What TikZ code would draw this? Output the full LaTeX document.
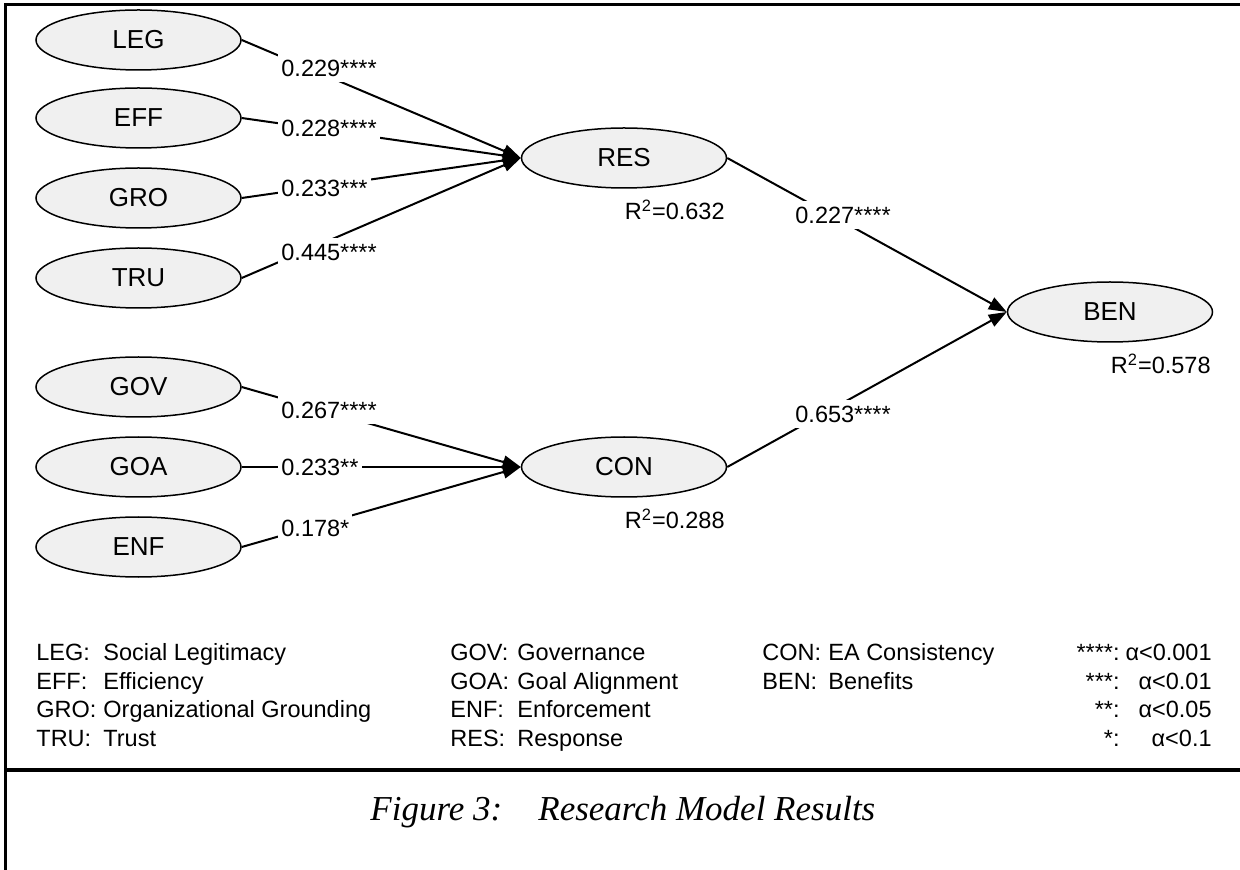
\documentclass[tikz,border=0pt]{standalone}
\usepackage{fontspec}
\setmainfont{Liberation Sans}
\newfontfamily\capfont{Liberation Serif}
\usetikzlibrary{arrows.meta,shapes.geometric}
\definecolor{latfill}{HTML}{F0F0F0}
\begin{document}
\begin{tikzpicture}[x=0.5pt,y=-0.5pt,
  lat/.style={ellipse, draw, line width=0.75pt, fill=latfill, minimum width=102.5pt, minimum height=30pt, inner sep=0pt, font=\fontsize{13}{15}\selectfont},
  conn/.style={line width=1pt, -{Triangle[length=9pt,width=6.5pt]}},
  elab/.style={fill=white, inner xsep=1.5pt, inner ysep=3pt, font=\fontsize{11.75}{14}\selectfont},
  rsq/.style={inner sep=0pt, font=\fontsize{11.75}{14}\selectfont},
  leg/.style={inner sep=0pt, anchor=base west, font=\fontsize{11.75}{14}\selectfont},
  legr/.style={inner sep=0pt, anchor=base east, font=\fontsize{11.75}{14}\selectfont},
  capt/.style={inner sep=0pt, anchor=base west, font=\capfont\itshape\fontsize{17.5}{21}\selectfont},
  frame/.style={line width=1.75pt}]
\useasboundingbox (0,0) rectangle (1240,870);
% frame
\coordinate (ftl) at (5.5,4.6);
\coordinate (ftr) at (1240,4.6);
\coordinate (fbl) at (5.5,870);
\coordinate (fml) at (4.6,770);
\coordinate (fmr) at (1240,770);
\draw[frame] (ftr) -- (ftl) -- (fbl);
\draw[frame] (fml) -- (fmr);
% latent variables
\node[lat] (LEG) at (138.5,40) {LEG};
\node[lat] (EFF) at (138.5,118) {EFF};
\node[lat] (GRO) at (138.5,198) {GRO};
\node[lat] (TRU) at (138.5,278) {TRU};
\node[lat] (GOV) at (138.5,387) {GOV};
\node[lat] (GOA) at (138.5,467) {GOA};
\node[lat] (ENF) at (138.5,547) {ENF};
\node[lat] (RES) at (624,158) {RES};
\node[lat] (CON) at (624,467) {CON};
\node[lat] (BEN) at (1110,312) {BEN};
% connectors
\draw[conn] (LEG.east) -- (RES.west);
\draw[conn] (EFF.east) -- (RES.west);
\draw[conn] (GRO.east) -- (RES.west);
\draw[conn] (TRU.east) -- (RES.west);
\draw[conn] (GOV.east) -- (CON.west);
\draw[conn] (GOA.east) -- (CON.west);
\draw[conn] (ENF.east) -- (CON.west);
\draw[conn] (RES.east) -- (BEN.west);
\draw[conn] (CON.east) -- (BEN.west);
% path coefficients
\node[elab, anchor=west] (c1) at (278,68) {0.229****};
\node[elab, anchor=west] (c2) at (278,128) {0.228****};
\node[elab, anchor=west] (c3) at (278,188) {0.233***};
\node[elab, anchor=west] (c4) at (278,252) {0.445****};
\node[elab, anchor=west] (c5) at (278,410) {0.267****};
\node[elab, anchor=west] (c6) at (278,467) {0.233**};
\node[elab, anchor=west] (c7) at (278,528) {0.178*};
\node[elab, anchor=west] (c8) at (792,215) {0.227****};
\node[elab, anchor=west] (c9) at (792,414) {0.653****};
% R squared
\node[rsq, anchor=east] (r1) at (725,210) {R\textsuperscript{2}=0.632};
\node[rsq, anchor=east] (r2) at (725,519) {R\textsuperscript{2}=0.288};
\node[rsq, anchor=east] (r3) at (1211,364) {R\textsuperscript{2}=0.578};
% legend
\node[leg] (k1) at (36,660) {LEG:};
\node[leg] (d1) at (103,660) {Social Legitimacy};
\node[leg] (k2) at (36,689) {EFF:};
\node[leg] (d2) at (103,689) {Efficiency};
\node[leg] (k3) at (36,717) {GRO:};
\node[leg] (d3) at (103,717) {Organizational Grounding};
\node[leg] (k4) at (36,746) {TRU:};
\node[leg] (d4) at (103,746) {Trust};
\node[leg] (k5) at (450,660) {GOV:};
\node[leg] (d5) at (517,660) {Governance};
\node[leg] (k6) at (450,689) {GOA:};
\node[leg] (d6) at (517,689) {Goal Alignment};
\node[leg] (k7) at (450,717) {ENF:};
\node[leg] (d7) at (517,717) {Enforcement};
\node[leg] (k8) at (450,746) {RES:};
\node[leg] (d8) at (517,746) {Response};
\node[leg] (k9) at (762,660) {CON:};
\node[leg] (d9) at (828,660) {EA Consistency};
\node[leg] (k10) at (762,689) {BEN:};
\node[leg] (d10) at (828,689) {Benefits};
\node[legr] (s1) at (1120,660) {****:};
\node[legr] (a1) at (1212,660) {α<0.001};
\node[legr] (s2) at (1120,689) {***:};
\node[legr] (a2) at (1212,689) {α<0.01};
\node[legr] (s3) at (1120,717) {**:};
\node[legr] (a3) at (1212,717) {α<0.05};
\node[legr] (s4) at (1120,746) {*:};
\node[legr] (a4) at (1212,746) {α<0.1};
% caption
\node[capt] (fig) at (370,820) {Figure 3:};
\node[capt] (cap) at (538,820) {Research Model Results};
\end{tikzpicture}
\end{document}
